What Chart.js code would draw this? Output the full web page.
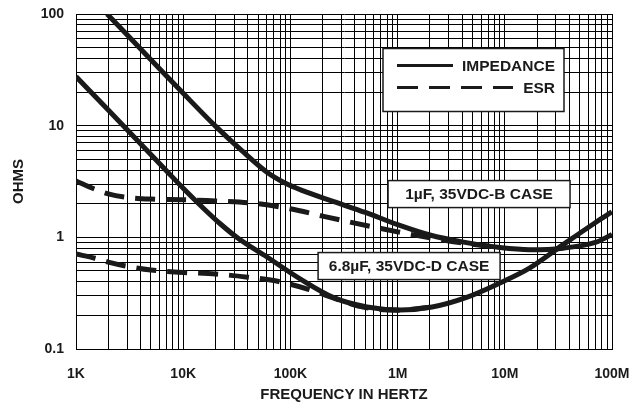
<!DOCTYPE html>
<html>
<head>
<meta charset="utf-8">
<script src="https://cdn.jsdelivr.net/npm/chart.js@4.4.1/dist/chart.umd.min.js"></script>
<style>
html, body { margin: 0; padding: 0; background: #fff; }
</style>
</head>
<body>
<canvas id="chart" width="642" height="409"></canvas>
<script>
'use strict';

/* global Chart */

const FONT = "'Liberation Sans', Arial, Helvetica, sans-serif";
const INK = '#1a1a1a';

// 1uF, 35VDC-B case
let freqImpB = [1950, 5000, 10000, 20000, 35000, 60000, 90000, 130000, 250000, 500000, 1e6, 2e6, 4e6, 9e6, 17e6, 35e6, 70e6, 1e8];
let ohmImpB = [100, 39, 19.5, 9.9, 6.0, 3.85, 3.05, 2.62, 2.1, 1.67, 1.3, 1.05, 0.91, 0.81, 0.775, 0.8, 0.9, 1.06];
let freqEsrB = [1000, 1500, 2000, 3000, 5000, 10000, 20000, 50000, 100000, 200000, 400000, 700000, 1e6, 2e6, 4e6, 9e6];
let ohmEsrB = [3.2, 2.7, 2.45, 2.28, 2.2, 2.17, 2.12, 2.0, 1.8, 1.55, 1.34, 1.2, 1.12, 0.99, 0.89, 0.81];

// 6.8uF, 35VDC-D case
let freqImpD = [1000, 2000, 4000, 7000, 10000, 15000, 22000, 33000, 60000, 123000, 250000, 518000, 1.05e6, 2.1e6, 4.4e6, 9e6, 17e6, 35e6, 72e6, 1e8];
let ohmImpD = [27.5, 13.8, 6.9, 3.93, 2.75, 1.87, 1.33, 0.97, 0.67, 0.425, 0.29, 0.238, 0.224, 0.238, 0.29, 0.39, 0.53, 0.86, 1.38, 1.69];
let freqEsrD = [1000, 1500, 2000, 3000, 5000, 10000, 20000, 40000, 70000, 100000, 150000, 200000, 300000, 500000, 1e6, 2e6];
let ohmEsrD = [0.71, 0.65, 0.6, 0.55, 0.51, 0.485, 0.47, 0.44, 0.41, 0.38, 0.34, 0.31, 0.27, 0.235, 0.222, 0.236];

let xTickValues = [1e3, 1e4, 1e5, 1e6, 1e7, 1e8];
let xTickLabels = ['1K', '10K', '100K', '1M', '10M', '100M'];
let yTickValues = [0.1, 1, 10, 100];
let yTickLabels = ['0.1', '1', '10', '100'];

let legendItems = [
    { text: 'IMPEDANCE', dash: [] },
    { text: 'ESR', dash: [21, 11] }
];
let notes = [
    { text: '1\u00b5F, 35VDC-B CASE', x: 5.75e6, y: 2.44 },
    { text: '6.8\u00b5F, 35VDC-D CASE', x: 1.28e6, y: 0.553 }
];

// every 1..9 step of each decade, for the grid
function gridValues(lo, hi) {
    let out = [];
    for (let e = Math.round(Math.log10(lo)); e < Math.round(Math.log10(hi)); ++e)
        for (let m = 1; m < 10; ++m)
            out.push(m * Math.pow(10, e));
    out.push(hi);
    return out;
}
function labelFor(values, labels) {
    return (value) => {
        let i = values.findIndex((v) => Math.abs(Math.log10(v) - Math.log10(value)) < 1e-6);
        return i >= 0 ? labels[i] : '';
    };
}
let pts = (xs, ys) => xs.map((x, i) => ({ x: x, y: ys[i] }));
function curve(label, xs, ys, dash) {
    return {
        label: label,
        data: pts(xs, ys),
        borderColor: INK,
        borderWidth: 5,
        borderDash: dash,
        borderCapStyle: 'butt',
        pointRadius: 0,
        fill: false,
        cubicInterpolationMode: 'monotone'
    };
}

let overlay = {
    id: 'overlay',
    afterDatasetsDraw(chart) {
        const { ctx, chartArea: a, scales } = chart;
        ctx.save();
        ctx.font = `bold 15.5px ${FONT}`;
        ctx.textBaseline = 'middle';
        ctx.strokeStyle = INK;

        // legend box
        let bx = a.left + 307, by = a.top + 34.5, bw = 181, bh = 63;
        ctx.fillStyle = '#fff';
        ctx.fillRect(bx, by, bw, bh);
        ctx.lineWidth = 1.5;
        ctx.strokeRect(bx, by, bw, bh);
        ctx.fillStyle = INK;
        ctx.textAlign = 'right';
        legendItems.forEach((item, i) => {
            let ly = by + 17 + i * 22;
            ctx.fillText(item.text, bx + 172, ly + 1);
            ctx.beginPath();
            ctx.lineWidth = 3;
            ctx.setLineDash(item.dash);
            ctx.moveTo(bx + 14, ly);
            ctx.lineTo(item.dash.length ? bx + 130 : bx + 70, ly);
            ctx.stroke();
            ctx.setLineDash([]);
        });

        // case labels
        ctx.textAlign = 'center';
        notes.forEach((n) => {
            let cx = scales.x.getPixelForValue(n.x);
            let cy = scales.y.getPixelForValue(n.y);
            let w = 182, h = 27;
            ctx.fillStyle = '#fff';
            ctx.fillRect(cx - w / 2, cy - h / 2, w, h);
            ctx.lineWidth = 1.5;
            ctx.strokeRect(cx - w / 2, cy - h / 2, w, h);
            ctx.fillStyle = INK;
            ctx.fillText(n.text, cx, cy + 1);
        });
        ctx.restore();
    }
};

let tickFont = { family: FONT, size: 14, weight: 'bold' };
let titleFont = { family: FONT, size: 15, weight: 'bold' };

new Chart(document.getElementById('chart'), {
    type: 'line',
    data: {
        datasets: [
            curve('ESR B', freqEsrB, ohmEsrB, [20, 11]),
            curve('ESR D', freqEsrD, ohmEsrD, [20, 11]),
            curve('Impedance B', freqImpB, ohmImpB, []),
            curve('Impedance D', freqImpD, ohmImpD, [])
        ]
    },
    options: {
        responsive: false,
        animation: false,
        devicePixelRatio: 1,
        layout: { padding: { top: 14, right: 30, left: 0, bottom: 0 } },
        plugins: {
            legend: { display: false },
            tooltip: { enabled: false }
        },
        scales: {
            x: {
                type: 'logarithmic',
                min: 1e3,
                max: 1e8,
                afterBuildTicks: (s) => { s.ticks = gridValues(1e3, 1e8).map((v) => ({ value: v })); },
                afterFit: (s) => { s.height = 60; s.paddingLeft = 0; s.paddingRight = 0; },
                ticks: {
                    autoSkip: false,
                    maxRotation: 0,
                    padding: 17,
                    color: INK,
                    font: tickFont,
                    callback: labelFor(xTickValues, xTickLabels)
                },
                grid: { color: '#000', lineWidth: 1, drawTicks: false },
                border: { color: '#000', width: 1 },
                title: {
                    display: true,
                    text: 'FREQUENCY IN HERTZ',
                    color: INK,
                    font: titleFont,
                    padding: { top: 0, bottom: 5 }
                }
            },
            y: {
                type: 'logarithmic',
                min: 0.1,
                max: 100,
                afterBuildTicks: (s) => { s.ticks = gridValues(0.1, 100).map((v) => ({ value: v })); },
                afterFit: (s) => { s.width = 76; s.paddingTop = 0; s.paddingBottom = 0; },
                ticks: {
                    autoSkip: false,
                    padding: 12,
                    color: INK,
                    font: tickFont,
                    callback: labelFor(yTickValues, yTickLabels)
                },
                grid: { color: '#000', lineWidth: 1, drawTicks: false },
                border: { color: '#000', width: 1 },
                title: {
                    display: true,
                    text: 'OHMS',
                    color: INK,
                    font: titleFont,
                    padding: { top: 10, bottom: 0 }
                }
            }
        }
    },
    plugins: [overlay]
});
</script>
</body>
</html>
